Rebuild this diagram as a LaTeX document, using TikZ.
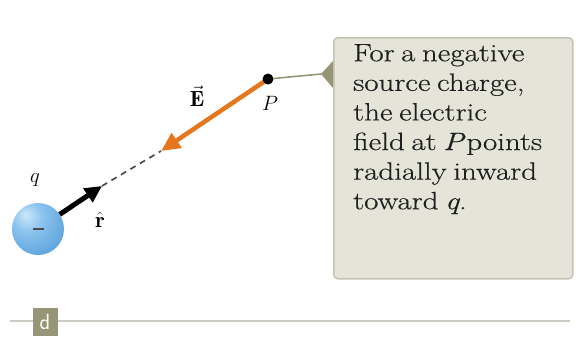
\documentclass[tikz,border=0pt]{standalone}
\usepackage{fontspec}
\usepackage{amsmath}
\usetikzlibrary{arrows.meta}
\newfontfamily\callfont[FakeStretch=1.24, FakeBold=0.4, WordSpace=0.7]{Latin Modern Roman}
\definecolor{boxfill}{RGB}{228,228,216}
\definecolor{boxedge}{RGB}{196,196,178}
\definecolor{olivec}{RGB}{150,150,118}
\definecolor{eorange}{RGB}{228,118,30}
\definecolor{ballblue}{RGB}{88,160,220}
\definecolor{ballhi}{RGB}{205,232,250}
\definecolor{ballmid}{RGB}{140,196,238}
\definecolor{rulec}{RGB}{205,205,195}
\pgfdeclareradialshading{lightball}{\pgfpoint{-12bp}{14bp}}{color(0bp)=(ballhi); color(14bp)=(ballmid); color(38bp)=(ballblue); color(60bp)=(ballblue!85!black); color(80bp)=(ballblue!85!black)}
\tikzset{
  lbl/.style={font=\fontsize{22}{22}\selectfont, inner sep=0pt},
  callout/.style={draw=boxedge, fill=boxfill, rounded corners=4pt, line width=1.5pt, inner sep=0pt},
  calltext/.style={font=\callfont\fontsize{25}{29.6}\selectfont, align=left, inner sep=0pt, text=black!88},
}
\begin{document}
\begin{tikzpicture}[x=1pt,y=-1pt]
\useasboundingbox (0,0) rectangle (576,338);
% callout box
\node[callout, minimum width=239pt, minimum height=241pt, anchor=north west] (box) at (333,37) {};
\node[calltext, anchor=north west] (txt) at (353,44) {For a negative\\source charge,\\the electric\\field at \textit{P}\hspace{1pt}points\\radially inward\\toward \textit{q}.};
\coordinate (ptip) at (321,74);
\fill[olivec] (ptip) -- (box.west |- 0,61) -- (box.west |- 0,88) -- cycle;
% charge
\node[circle, minimum size=52pt, inner sep=0pt, shading=lightball] (q) at (38,229) {};
\node[inner sep=0pt, fill=black!70, minimum width=11pt, minimum height=1.6pt] (minus) at (q.center) {};
\node[lbl] (ql) at (35,180) {$q$};
% vectors
\coordinate (rtip) at (102,186);
\coordinate (etip) at (161,151);
\coordinate (Ppos) at (268,79);
\draw[line width=5pt, -{Triangle[length=17pt,width=16pt]}] (q) -- (rtip);
\draw[black!70, line width=1.7pt, dash pattern=on 6pt off 5pt] (rtip) -- (etip);
\draw[eorange, line width=4.5pt, -{Triangle[length=19pt,width=17pt]}] (Ppos) -- (etip);
\node[circle, fill=black, minimum size=11pt, inner sep=0pt] (P) at (Ppos) {};
\draw[olivec, line width=1.6pt] (P) -- (ptip);
\node[lbl] (Pl) at (270,103) {$P$};
\node[lbl] (El) at (197,96) {$\vec{\mathbf{E}}$};
\node[lbl] (rl) at (100,220) {$\hat{\mathbf{r}}$};
% bottom rule and tag
\draw[rulec, line width=2pt] (10,321) -- (570,321);
\node[fill=olivec, minimum width=25pt, minimum height=28pt, inner sep=0pt, text=white, font=\sffamily\fontsize{22}{22}\selectfont] (d) at (45,322) {d};
\end{tikzpicture}
\end{document}
